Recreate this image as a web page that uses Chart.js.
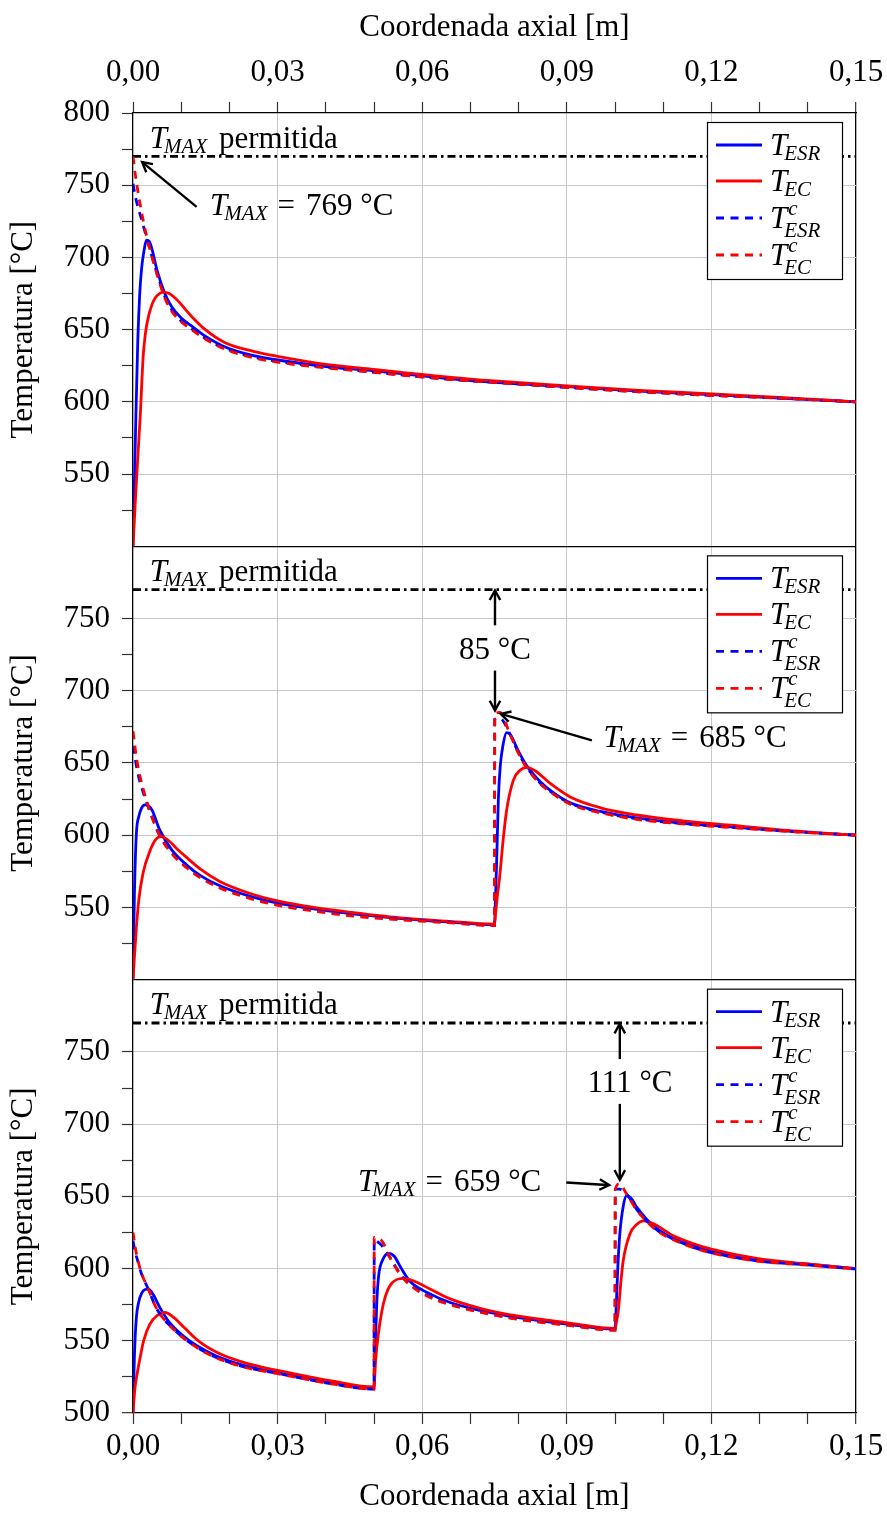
<!DOCTYPE html>
<html>
<head>
<meta charset="utf-8">
<script src="https://cdn.jsdelivr.net/npm/chart.js@4.4.1/dist/chart.umd.min.js"></script>
<style>
	html, body { margin: 0; padding: 0; background: #fff; }
	#grafico { display: block; }
</style>
</head>
<body>
<canvas id="grafico" width="887" height="1513"></canvas>
<script>
var FONTE = "'Liberation Serif', 'Times New Roman', serif";
var AZUL = '#0000ff';
var VERMELHO = '#ff0000';
var GRADE = '#c8c8c8';

// eixos
var xMin = 0, xMax = 0.15, xPasso = 0.01;
var yMin = 500, yMax = 800, yPasso = 25;
var limiteX = [0, 0.15];
var limiteY = [770, 770];

// painel 1
var xA_esr = [0, 0.0003, 0.0006, 0.001, 0.0014, 0.0018, 0.0023, 0.0028, 0.0034, 0.004, 0.005, 0.0066, 0.008, 0.01, 0.0122, 0.015, 0.0191, 0.025, 0.03, 0.04, 0.05, 0.066, 0.075, 0.09, 0.105, 0.12, 0.135, 0.15];
var yA_esr = [500, 545, 590, 643, 675, 693, 705, 712, 711, 705, 691, 675, 666, 658, 652.5, 645.5, 638, 632, 629, 624.5, 621.5, 616, 613.5, 610.5, 607.5, 605, 602.5, 600];
var xA_ec = [0, 0.0005, 0.001, 0.0015, 0.0021, 0.0026, 0.0032, 0.0039, 0.0046, 0.0055, 0.0063, 0.0075, 0.009, 0.0122, 0.015, 0.0191, 0.025, 0.03, 0.04, 0.05, 0.066, 0.075, 0.09, 0.105, 0.12, 0.135, 0.15];
var yA_ec = [500, 532, 562, 590, 631, 648, 659, 667, 672, 675, 676, 675, 671, 659, 650, 641, 635, 631.5, 626, 622.5, 617, 614.5, 611, 608, 605.5, 603, 600];
var xA_c = [0, 0.0005, 0.0011, 0.0018, 0.0028, 0.004, 0.005, 0.0066, 0.008, 0.01, 0.0122, 0.015, 0.0191, 0.025, 0.03, 0.04, 0.05, 0.066, 0.075, 0.09, 0.105, 0.12, 0.135, 0.15];
var yA_esrC = [751, 742, 734, 726, 714, 700, 689, 673, 664, 656, 650.5, 644, 637, 631, 628, 624, 620.5, 615.5, 613.5, 610, 607, 604.5, 602.5, 600];
var yA_ecC = [770, 757, 744, 731, 715, 699.5, 688, 672, 663, 655.5, 650, 643.5, 636.5, 630.5, 627.5, 623.5, 620.5, 615.5, 613.5, 610, 607, 604.5, 602.5, 600];

// painel 2
var xB_esr = [0, 0.0003, 0.0007, 0.0012, 0.0018, 0.0025, 0.0032, 0.004, 0.0055, 0.008, 0.0111, 0.014, 0.018, 0.024, 0.03, 0.0375, 0.0456, 0.055, 0.065, 0.075, 0.0752, 0.0755, 0.0758, 0.0762, 0.0768, 0.0775, 0.0782, 0.08, 0.0817, 0.0845, 0.0872, 0.0907, 0.097, 0.1045, 0.114, 0.124, 0.135, 0.15];
var yB_esr = [500, 560, 601, 613, 619, 621, 620.5, 617, 604, 590, 579.5, 572, 565, 558, 553, 549, 545.5, 542.5, 540, 538, 555, 588, 625, 648, 663, 671, 670, 658, 648, 637, 629.5, 622.5, 616.5, 612, 608.3, 605.8, 603, 600];
var xB_ec = [0, 0.0003, 0.0007, 0.0012, 0.0021, 0.0035, 0.0047, 0.0059, 0.0075, 0.009, 0.011, 0.014, 0.018, 0.024, 0.03, 0.0375, 0.0456, 0.055, 0.065, 0.075, 0.0752, 0.0756, 0.0761, 0.0768, 0.0775, 0.0789, 0.0803, 0.0817, 0.0835, 0.0865, 0.0907, 0.097, 0.1045, 0.114, 0.124, 0.135, 0.15];
var yB_ec = [500, 516, 536, 555, 574, 589, 597, 599, 596, 591, 585, 576.5, 568, 560, 554.5, 550, 546.5, 543, 540.5, 538.5, 545, 558, 572, 597, 617, 638, 645, 647, 644.5, 636, 626.5, 619, 614, 610, 607, 603.5, 600];
var xB_c = [0, 0.0005, 0.001, 0.0018, 0.0028, 0.004, 0.0055, 0.008, 0.0111, 0.014, 0.018, 0.024, 0.03, 0.0375, 0.0456, 0.055, 0.065, 0.075, 0.07505, 0.0761, 0.0782, 0.08, 0.0817, 0.0845, 0.0872, 0.0907, 0.097, 0.1045, 0.114, 0.124, 0.135, 0.15];
var yB_esrC = [662, 652, 643, 633, 623, 612, 600, 588, 578, 571, 564, 557, 552, 548, 544.5, 542, 540, 537.5, 680, 681, 670, 657, 647, 636, 629, 622, 616, 611.4, 608, 605.6, 603, 600];
var yB_ecC = [672, 659, 648, 636, 624, 612, 600, 587.5, 577.5, 570.5, 563.5, 556.5, 551.5, 547.5, 544, 541.5, 539.5, 537.5, 684, 685, 670, 656.5, 646.5, 635.5, 628.5, 621.5, 615.5, 611, 607.8, 605.4, 602.8, 600];

// painel 3
var xC_esr = [0, 0.0003, 0.0007, 0.0012, 0.0018, 0.0025, 0.0032, 0.0042, 0.0055, 0.0075, 0.0104, 0.0135, 0.0173, 0.023, 0.03, 0.0415, 0.05, 0.0503, 0.0506, 0.051, 0.0518, 0.053, 0.0542, 0.0555, 0.0575, 0.061, 0.0658, 0.072, 0.08, 0.09, 0.1, 0.1003, 0.1006, 0.101, 0.1017, 0.1024, 0.1035, 0.1045, 0.1066, 0.109, 0.1121, 0.116, 0.12, 0.1294, 0.14, 0.15];
var yC_esr = [500, 540, 566, 577, 583, 585.5, 585.8, 582, 573.5, 563, 553.5, 546, 539.5, 533, 528, 521, 517, 550, 578, 596, 606, 610.5, 608.5, 601, 591, 583.5, 576.5, 571, 566, 561.5, 558, 578, 602, 624, 643, 650.4, 648, 642.5, 634, 627, 621, 616, 612, 606, 603, 600];
var xC_ec = [0, 0.0004, 0.0009, 0.0014, 0.0022, 0.0035, 0.005, 0.0066, 0.0085, 0.0105, 0.0139, 0.018, 0.024, 0.03, 0.0415, 0.05, 0.0503, 0.0509, 0.0516, 0.0523, 0.0535, 0.0561, 0.0585, 0.0615, 0.0658, 0.072, 0.08, 0.09, 0.1, 0.1003, 0.1007, 0.1012, 0.1017, 0.1031, 0.1045, 0.1059, 0.108, 0.1121, 0.116, 0.12, 0.1294, 0.14, 0.15];
var yC_ec = [500, 517, 528, 537, 550, 561.5, 567.5, 569.6, 566, 559.5, 549, 541, 534, 529.5, 522, 518, 535, 554.6, 570, 580, 589, 593.2, 591, 586, 579, 572.5, 567, 562.5, 558.5, 563, 571, 590, 605.4, 624, 630.5, 633, 631, 622.7, 617.5, 613.5, 607, 603.2, 600];
var xC_c = [0, 0.0005, 0.001, 0.0018, 0.0032, 0.0045, 0.0055, 0.0075, 0.0104, 0.0135, 0.0173, 0.023, 0.03, 0.0415, 0.05, 0.05005, 0.0506, 0.0516, 0.0533, 0.0555, 0.0575, 0.061, 0.0658, 0.072, 0.08, 0.09, 0.1, 0.10005, 0.1009, 0.1024, 0.1045, 0.1066, 0.109, 0.1121, 0.116, 0.12, 0.1294, 0.14, 0.15];
var yC_esrC = [619, 611, 605, 596, 585.6, 575, 569, 561, 552.3, 545, 538.4, 532, 527.4, 520, 516.6, 620, 619, 616, 607.7, 596, 589, 581.5, 575.4, 570, 565, 561, 557.5, 655, 655, 651.6, 641, 633, 626, 620.4, 615, 611, 605.4, 602.5, 599.6];
var yC_ecC = [625, 614, 606, 596.5, 585.6, 575, 569, 561, 552, 544.8, 538.2, 531.8, 527.2, 520, 516.6, 621.6, 620.5, 619.3, 607.7, 595.5, 588.5, 581, 575, 569.8, 564.8, 560.8, 557.3, 654.4, 658.6, 651.6, 640.5, 632.5, 625.5, 620, 614.8, 610.8, 605.2, 602.4, 599.6];

// rotulos do eixo y de cada painel
var rotulosA = [550, 600, 650, 700, 750, 800];
var rotulosB = [550, 600, 650, 700, 750];
var rotulosC = [500, 550, 600, 650, 700, 750];

// legenda: T com subscrito / sobrescrito
var legenda = [
	{ sub: 'ESR', sup: '', cor: AZUL, dash: [] },
	{ sub: 'EC', sup: '', cor: VERMELHO, dash: [] },
	{ sub: 'ESR', sup: 'c', cor: AZUL, dash: [8, 6.5] },
	{ sub: 'EC', sup: 'c', cor: VERMELHO, dash: [8, 6.5] }
];

// anotacoes (coordenadas nos eixos)
var notas = {
	yA: { permitida: [0.0035, 776], texto: '769 °C', pos: [0.016, 729.4], de: [0.0132, 735], para: [0.0019, 766] },
	yB: { permitida: [0.0035, 776], texto: '685 °C', pos: [0.0976, 661], de: [0.0952, 665.6], para: [0.0763, 684],
		dif: '85 °C', difX: 0.0751, difXt: 0.0751, difY: 722.2, sobe: [745.3, 769.5], desce: [714, 686.4] },
	yC: { permitida: [0.0035, 776], texto: '659 °C', pos: [0.0467, 653.9], de: [0.0899, 659.6], para: [0.0988, 657.8],
		dif: '111 °C', difX: 0.101, difXt: 0.1031, difY: 722, sobe: [745, 769.5], desce: [714, 661.5] }
};

function fonte(tam, it) {
	return (it ? 'italic ' : '') + tam + 'px ' + FONTE;
}

function linha(xs, ys) {
	let pts = [];
	for (let i = 0; i < xs.length; i++) {
		pts.push({ x: xs[i], y: ys[i] });
	}
	return pts;
}

function serie(xs, ys, eixo, estilo, ordem) {
	return {
		data: linha(xs, ys),
		xAxisID: 'x',
		yAxisID: eixo,
		borderColor: estilo.cor,
		borderDash: estilo.dash,
		borderWidth: 2.8,
		pointRadius: 0,
		cubicInterpolationMode: 'monotone',
		fill: false,
		order: ordem
	};
}

function limite(eixo) {
	return {
		data: linha(limiteX, limiteY),
		xAxisID: 'x',
		yAxisID: eixo,
		borderColor: '#000',
		borderDash: [8, 4, 2.5, 4],
		borderWidth: 2.8,
		pointRadius: 0,
		fill: false,
		order: 5
	};
}

function desenhaT(ctx, x, y, sub, sup) {
	ctx.font = fonte(31, true);
	ctx.fillText('T', x, y);
	let w = ctx.measureText('T').width;
	let fim = x + w;
	ctx.font = fonte(21, true);
	if (sup) {
		ctx.fillText(sup, x + w + 1, y - 13);
		fim = Math.max(fim, x + w + 1 + ctx.measureText(sup).width);
	}
	if (sub) {
		let dy = sup ? 9 : 5;
		ctx.fillText(sub, x + w - 3, y + dy);
		fim = Math.max(fim, x + w - 3 + ctx.measureText(sub).width);
	}
	return fim;
}

function seta(ctx, x1, y1, x2, y2) {
	let a = Math.atan2(y2 - y1, x2 - x1);
	let L = 11, ab = 0.5;
	ctx.beginPath();
	ctx.moveTo(x1, y1);
	ctx.lineTo(x2 - 2 * Math.cos(a), y2 - 2 * Math.sin(a));
	ctx.stroke();
	ctx.beginPath();
	ctx.moveTo(x2 - L * Math.cos(a - ab), y2 - L * Math.sin(a - ab));
	ctx.lineTo(x2, y2);
	ctx.lineTo(x2 - L * Math.cos(a + ab), y2 - L * Math.sin(a + ab));
	ctx.stroke();
}

var anotacoes = {
	id: 'anotacoes',
	afterDatasetsDraw: function (chart) {
		let ctx = chart.ctx;
		let sx = chart.scales.x;
		['yA', 'yB', 'yC'].forEach(function (id) {
			let sy = chart.scales[id];
			let n = notas[id];
			let px = function (v) { return sx.getPixelForValue(v); };
			let py = function (v) { return sy.getPixelForValue(v); };
			ctx.save();
			ctx.fillStyle = '#000';
			ctx.strokeStyle = '#000';
			ctx.textBaseline = 'alphabetic';
			ctx.textAlign = 'left';

			// legenda
			let dir = chart.chartArea.right - 14;
			let esq = dir - 135;
			let topo = sy.top + 9;
			ctx.fillStyle = '#fff';
			ctx.fillRect(esq, topo, 135, 157);
			ctx.lineWidth = 1.2;
			ctx.strokeRect(esq + 0.5, topo + 0.5, 135, 157);
			ctx.fillStyle = '#000';
			let linhas = [23, 59, 96, 133];
			legenda.forEach(function (item, i) {
				let yl = topo + linhas[i];
				ctx.save();
				ctx.strokeStyle = item.cor;
				ctx.lineWidth = 2.8;
				ctx.setLineDash(item.dash);
				ctx.beginPath();
				ctx.moveTo(esq + 9, yl);
				ctx.lineTo(esq + 55, yl);
				ctx.stroke();
				ctx.restore();
				desenhaT(ctx, esq + 63, yl + 10, item.sub, item.sup);
			});

			// T_MAX permitida
			let bx = px(n.permitida[0]), by = py(n.permitida[1]);
			let fim = desenhaT(ctx, bx, by, 'MAX');
			ctx.font = fonte(31, false);
			ctx.fillText(' permitida', fim + 4, by);

			// T_MAX = ...
			ctx.lineWidth = 2.4;
			seta(ctx, px(n.de[0]), py(n.de[1]), px(n.para[0]), py(n.para[1]));
			let tx = px(n.pos[0]), ty = py(n.pos[1]);
			fim = desenhaT(ctx, tx, ty, 'MAX');
			ctx.font = fonte(31, false);
			ctx.fillText('=', fim + 10, ty);
			let wq = ctx.measureText('=').width;
			ctx.fillText(n.texto, fim + 10 + wq + 11, ty);

			// diferenca ate o limite
			if (n.dif) {
				let ax = px(n.difX);
				seta(ctx, ax, py(n.sobe[0]), ax, py(n.sobe[1]));
				seta(ctx, ax, py(n.desce[0]), ax, py(n.desce[1]));
				ctx.textAlign = 'center';
				ctx.fillText(n.dif, px(n.difXt), py(n.difY));
			}
			ctx.restore();
		});
	}
};

function eixoY(rotulos, marcas, ultimo) {
	return {
		type: 'linear',
		position: 'left',
		stack: 'paineis',
		stackWeight: 1,
		min: yMin,
		max: yMax,
		ticks: {
			stepSize: yPasso,
			autoSkip: false,
			padding: 12,
			color: '#000',
			font: { family: FONTE, size: 31, lineHeight: 1 },
			callback: function (v) { return rotulos.indexOf(v) >= 0 ? String(v) : ''; }
		},
		grid: {
			tickLength: 11,
			tickWidth: 1.2,
			color: function (c) {
				let v = c.tick.value;
				if (v === yMin) return ultimo ? 'rgba(0,0,0,0)' : '#000';
				if (v === yMax) return 'rgba(0,0,0,0)';
				return v % 50 === 0 ? GRADE : 'rgba(0,0,0,0)';
			},
			lineWidth: function (c) { return c.tick.value === yMin ? 1.3 : 1; },
			tickColor: function (c) {
				let v = c.tick.value;
				return (v >= marcas[0] && v <= marcas[1]) ? '#333' : 'rgba(0,0,0,0)';
			}
		},
		border: { color: '#000', width: 1.3 },
		title: {
			display: true,
			text: 'Temperatura [°C]',
			color: '#000',
			font: { family: FONTE, size: 31, lineHeight: 1 },
			padding: { top: 4.5, bottom: 12 }
		}
	};
}

function eixoX(pos, alt, tpad) {
	return {
		type: 'linear',
		position: pos,
		min: xMin,
		max: xMax,
		ticks: {
			stepSize: xPasso,
			autoSkip: false,
			maxRotation: 0,
			padding: 3,
			color: '#000',
			font: { family: FONTE, size: 31, lineHeight: alt },
			callback: function (v) {
				return Math.round(v * 100) % 3 === 0 ? v.toFixed(2).replace('.', ',') : '';
			}
		},
		grid: {
			drawOnChartArea: pos === 'bottom',
			tickLength: 11,
			tickWidth: 1.2,
			tickColor: '#333',
			color: function (c) {
				let k = Math.round(c.tick.value * 100);
				if (k === 0) return 'rgba(0,0,0,0)';
				if (k === 15) return '#000';
				return k % 3 === 0 ? GRADE : 'rgba(0,0,0,0)';
			},
			lineWidth: function (c) { return Math.round(c.tick.value * 100) === 15 ? 1.3 : 1; }
		},
		border: { color: '#000', width: 1.3 },
		title: {
			display: true,
			text: 'Coordenada axial [m]',
			color: '#000',
			font: { family: FONTE, size: 31, lineHeight: 1 },
			padding: tpad
		}
	};
}

var canvasGrafico = document.getElementById('grafico');

var grafico = new Chart(canvasGrafico, {
	type: 'line',
	data: {
		datasets: [
			limite('yA'),
			serie(xA_esr, yA_esr, 'yA', legenda[0], 4),
			serie(xA_ec, yA_ec, 'yA', legenda[1], 3),
			serie(xA_c, yA_esrC, 'yA', legenda[2], 2),
			serie(xA_c, yA_ecC, 'yA', legenda[3], 1),
			limite('yB'),
			serie(xB_esr, yB_esr, 'yB', legenda[0], 4),
			serie(xB_ec, yB_ec, 'yB', legenda[1], 3),
			serie(xB_c, yB_esrC, 'yB', legenda[2], 2),
			serie(xB_c, yB_ecC, 'yB', legenda[3], 1),
			limite('yC'),
			serie(xC_esr, yC_esr, 'yC', legenda[0], 4),
			serie(xC_ec, yC_ec, 'yC', legenda[1], 3),
			serie(xC_c, yC_esrC, 'yC', legenda[2], 2),
			serie(xC_c, yC_ecC, 'yC', legenda[3], 1)
		]
	},
	options: {
		responsive: false,
		animation: false,
		devicePixelRatio: 1,
		layout: { padding: { top: 12.5, bottom: 0.5, left: 4, right: 31 } },
		plugins: {
			legend: { display: false },
			tooltip: { enabled: false }
		},
		scales: {
			x: eixoX('bottom', 40 / 31, { top: 11.5, bottom: 0 }),
			x2: eixoX('top', 52 / 31, { top: 0, bottom: 0.5 }),
			yC: eixoY(rotulosC, [500, 750], true),
			yB: eixoY(rotulosB, [525, 750], false),
			yA: eixoY(rotulosA, [525, 800], false)
		}
	},
	plugins: [anotacoes]
});
</script>
</body>
</html>
